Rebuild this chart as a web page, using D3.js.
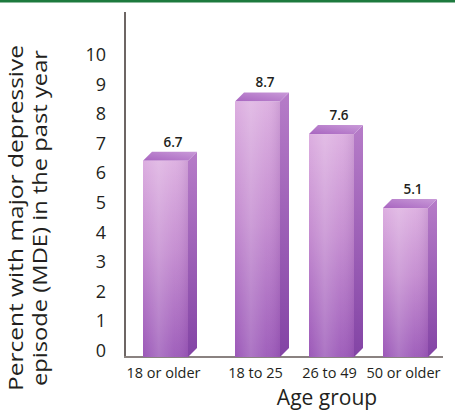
<!DOCTYPE html>
<html>
<head>
<meta charset="utf-8">
<script src="https://cdn.jsdelivr.net/npm/d3@7"></script>
<style>
  html, body { margin: 0; padding: 0; background: #fff; }
  svg { display: block; }
  text { font-family: "Open Sans", "DejaVu Sans", sans-serif; fill: #231f20; }
</style>
</head>
<body>
<div id="chart"></div>
<script>
// Past-year major depressive episode among adults, by age group
const categories = ["18 or older", "18 to 25", "26 to 49", "50 or older"];
const values = [6.7, 8.7, 7.6, 5.1];
const yTicks = [0, 1, 2, 3, 4, 5, 6, 7, 8, 9, 10];
const yTitleLines = ["Percent with major depressive", "episode (MDE) in the past year"];
const xTitle = "Age group";

const W = 455, H = 411;
const baseY = 357;       // x-axis baseline
const axisX = 125;       // y-axis line
const depth = 9;         // 3D extrusion offset
const firstGap = 18;     // extra space after the "all adults" bar

const svg = d3.select("#chart").append("svg")
  .attr("width", W).attr("height", H);

const defs = svg.append("defs");

const front = defs.append("linearGradient").attr("id", "gFront")
  .attr("x1", 0).attr("y1", 0).attr("x2", 0).attr("y2", 1);
front.append("stop").attr("offset", "0%").attr("stop-color", "#dcaee0");
front.append("stop").attr("offset", "45%").attr("stop-color", "#c48bd0");
front.append("stop").attr("offset", "100%").attr("stop-color", "#9b58b8");

const sheen = defs.append("linearGradient").attr("id", "gSheen")
  .attr("x1", 0).attr("y1", 0).attr("x2", 1).attr("y2", 0);
sheen.append("stop").attr("offset", "0%").attr("stop-color", "#fff").attr("stop-opacity", 0.0);
sheen.append("stop").attr("offset", "35%").attr("stop-color", "#fff").attr("stop-opacity", 0.18);
sheen.append("stop").attr("offset", "70%").attr("stop-color", "#fff").attr("stop-opacity", 0.05);
sheen.append("stop").attr("offset", "100%").attr("stop-color", "#5a1f7a").attr("stop-opacity", 0.12);

const side = defs.append("linearGradient").attr("id", "gSide")
  .attr("x1", 0).attr("y1", 0).attr("x2", 0).attr("y2", 1);
side.append("stop").attr("offset", "0%").attr("stop-color", "#b67cc8");
side.append("stop").attr("offset", "100%").attr("stop-color", "#8344a5");

const topG = defs.append("linearGradient").attr("id", "gTop")
  .attr("x1", 0).attr("y1", 1).attr("x2", 1).attr("y2", 0);
topG.append("stop").attr("offset", "0%").attr("stop-color", "#a865c0");
topG.append("stop").attr("offset", "100%").attr("stop-color", "#c99ad8");

// Green rule across the top
svg.append("rect").attr("x", 0).attr("y", 0).attr("width", W).attr("height", 2.5)
  .attr("fill", "#1d7a3e");

// Scales
const y = d3.scaleLinear().domain([0, 10]).range([350, 54]);
const x = d3.scaleBand().domain(categories).range([161, 428])
  .paddingInner(29 / 74).paddingOuter(0);
const bw = x.bandwidth();
const left = d => x(d) - (d === categories[0] ? firstGap : 0);

// Y axis: line plus right-aligned tick labels
const yAxis = d3.axisLeft(y).tickValues(yTicks).tickSize(0).tickPadding(0)
  .tickFormat(d3.format("d"));
const yg = svg.append("g").attr("transform", "translate(106,0)").call(yAxis);
yg.select(".domain").remove();
yg.selectAll("text").attr("font-size", 18).attr("dy", "0.36em")
  .style("font-family", '"Open Sans", sans-serif').attr("fill", "#231f20");

svg.append("line").attr("x1", axisX).attr("x2", axisX).attr("y1", 12).attr("y2", baseY)
  .attr("stroke", "#6d6664").attr("stroke-width", 2);
svg.append("line").attr("x1", axisX - 1).attr("x2", 443).attr("y1", baseY).attr("y2", baseY)
  .attr("stroke", "#8a8280").attr("stroke-width", 2);

// Bars
const data = categories.map((c, i) => ({ cat: c, value: values[i] }));
const bars = svg.append("g").selectAll("g").data(data).join("g");

bars.append("path") // side face
  .attr("d", d => {
    const x0 = left(d.cat) + bw, t = y(d.value);
    return `M${x0},${t + depth}L${x0 + depth},${t}L${x0 + depth},${baseY - depth}L${x0},${baseY}Z`;
  })
  .attr("fill", "url(#gSide)");

bars.append("path") // top face
  .attr("d", d => {
    const x0 = left(d.cat), t = y(d.value);
    return `M${x0},${t + depth}L${x0 + depth},${t}L${x0 + bw + depth},${t}L${x0 + bw},${t + depth}Z`;
  })
  .attr("fill", "url(#gTop)");

bars.append("rect") // front face
  .attr("x", d => left(d.cat))
  .attr("y", d => y(d.value) + depth)
  .attr("width", bw)
  .attr("height", d => baseY - y(d.value) - depth)
  .attr("fill", "url(#gFront)");

bars.append("rect") // soft vertical sheen on the front face
  .attr("x", d => left(d.cat))
  .attr("y", d => y(d.value) + depth)
  .attr("width", bw)
  .attr("height", d => baseY - y(d.value) - depth)
  .attr("fill", "url(#gSheen)");

// Value labels above each bar
bars.append("text")
  .attr("x", d => left(d.cat) + bw / 2 + depth / 2 + 3)
  .attr("y", d => y(d.value) - 5)
  .attr("text-anchor", "middle")
  .attr("font-size", 13.5)
  .attr("font-weight", 600)
  .text(d => d.value.toFixed(1));

// Category labels
svg.append("g").selectAll("text").data(categories).join("text")
  .attr("x", d => left(d) + bw / 2 - 2)
  .attr("y", 378)
  .attr("text-anchor", "middle")
  .attr("font-size", 14.5)
  .text(d => d);

// Axis titles
svg.append("text")
  .attr("x", 327).attr("y", 405)
  .attr("text-anchor", "middle")
  .attr("font-size", 21)
  .text(xTitle);

const yt = svg.append("text")
  .attr("transform", "translate(0,218) rotate(-90)")
  .attr("text-anchor", "middle")
  .attr("font-size", 20);
yt.append("tspan").attr("x", 0).attr("y", 23)
  .attr("textLength", 346).attr("lengthAdjust", "spacingAndGlyphs")
  .text(yTitleLines[0]);
yt.append("tspan").attr("x", 0).attr("y", 47)
  .attr("textLength", 336).attr("lengthAdjust", "spacingAndGlyphs")
  .text(yTitleLines[1]);
</script>
</body>
</html>
